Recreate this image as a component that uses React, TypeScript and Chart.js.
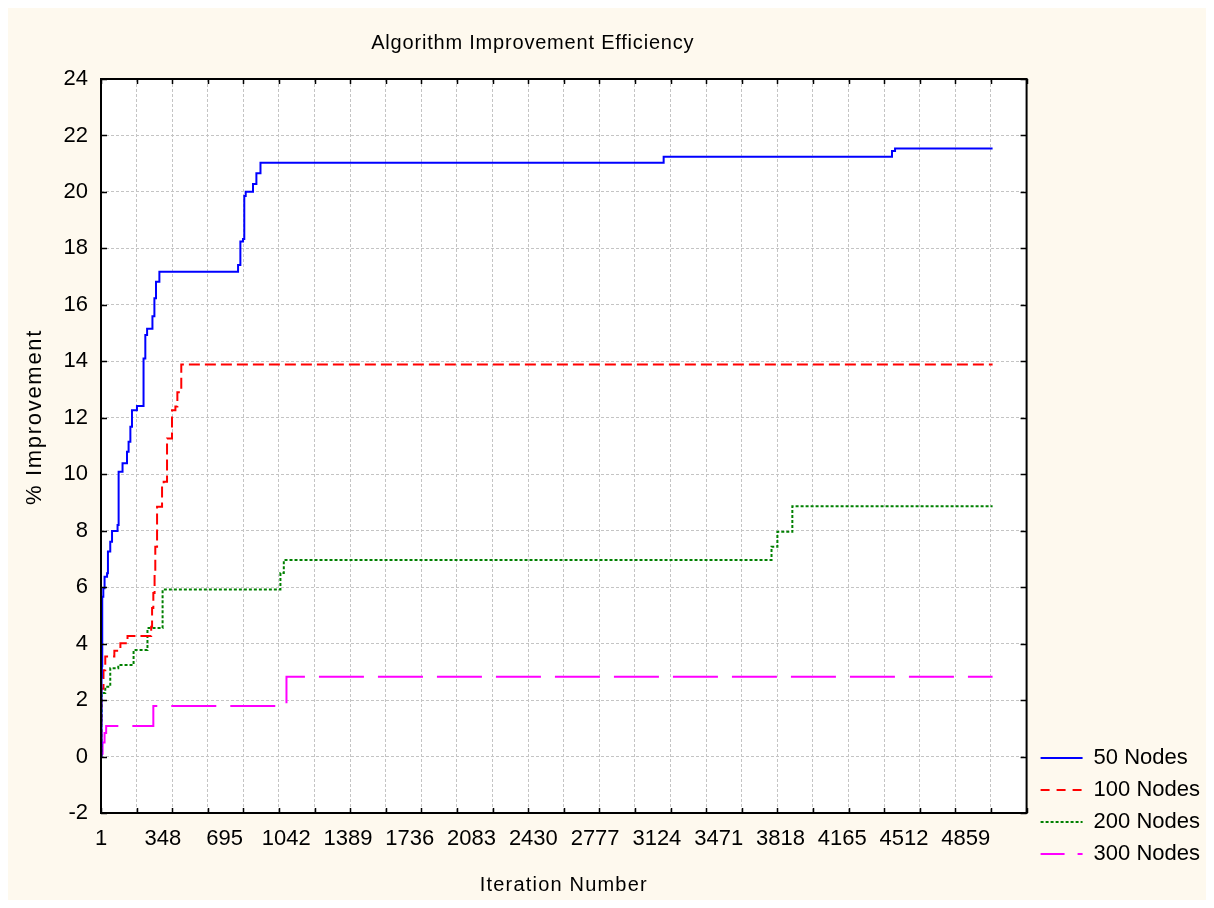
import React, { useEffect, useRef } from "react";
import { Chart, registerables } from "chart.js";

Chart.register(...registerables);

// ---------- data ----------
const TITLE = "Algorithm Improvement Efficiency";
const X_TITLE = "Iteration Number";
const Y_TITLE = "% Improvement";

const SERIES_NAMES = ["50 Nodes", "100 Nodes", "200 Nodes", "300 Nodes"];

const nodes50Iter = [1, 4, 6, 8, 14, 21, 35, 40, 53, 63, 94, 100, 122, 147, 156, 166, 175, 203, 240, 250, 260, 290, 301, 310, 329, 771, 784, 799, 806, 814, 855, 874, 897, 3162, 4445, 4462, 5010];
const nodes50Val = [0, 2.8, 3.2, 5.66, 5.96, 6.37, 6.49, 7.26, 7.61, 7.99, 8.2, 10.09, 10.39, 10.8, 11.15, 11.68, 12.27, 12.42, 14.1, 14.93, 15.15, 15.6, 16.23, 16.82, 17.17, 17.41, 18.24, 18.33, 19.86, 20.01, 20.28, 20.66, 21.03, 21.25, 21.45, 21.54, 21.54];

const nodes100Iter = [1, 3, 15, 25, 76, 110, 150, 283, 288, 295, 302, 306, 316, 344, 353, 372, 400, 419, 430, 452, 5010];
const nodes100Val = [0, 2.4, 3.06, 3.54, 3.75, 4.01, 4.27, 4.6, 5.26, 5.79, 6.5, 7.43, 8.85, 9.68, 9.73, 11.27, 12.27, 12.4, 12.9, 13.89, 13.89];

const nodes200Iter = [1, 3, 5, 25, 53, 98, 184, 262, 347, 1009, 1028, 3768, 3801, 3885, 5010];
const nodes200Val = [0, 1.3, 2.25, 2.47, 3.13, 3.24, 3.77, 4.55, 5.92, 6.5, 6.96, 7.43, 7.96, 8.87, 8.87];

const nodes300Iter = [1, 10, 21, 30, 295, 1043, 5010];
const nodes300Val = [0.1, 0.5, 0.83, 1.08, 1.79, 2.83, 2.83];

const X_LABEL_TICKS = [1, 348, 695, 1042, 1389, 1736, 2083, 2430, 2777, 3124, 3471, 3818, 4165, 4512, 4859];
const X_GRID_TICKS = [1, 201, 401, 601, 801, 1001, 1201, 1401, 1601, 1801, 2001, 2201, 2401, 2601, 2801, 3001, 3201, 3401, 3601, 3801, 4001, 4201, 4401, 4601, 4801, 5001, 5201];
const X_MIN = 1;
const X_MAX = 5201;
const Y_MIN = -2;
const Y_MAX = 24;
const Y_STEP = 2;

// ---------- styles ----------
const COLORS = ["#0000ff", "#ff0000", "#008000", "#ff00ff"];
const DASHES = [[], [11, 5], [3, 2], [45, 14]];
const LEGEND_DASHES = [[], [9, 7], [3, 2], [24, 13, 5, 0]];
const CREAM = "#fef9ee";
const FONT = "'Liberation Sans', Arial, sans-serif";
const GRID_COLOR = "#c4c4c4";

const toPoints = (xs: number[], ys: number[]) => xs.map((x, i) => ({ x, y: ys[i] }));

const decorPlugin = {
  id: "decor",
  afterLayout(chart: any) {
    const lg = chart.legend;
    if (lg) {
      lg.left += 4;
      lg.right += 4;
    }
  },
  beforeDraw(chart: any) {
    const { ctx, chartArea: a, width, height } = chart;
    ctx.save();
    ctx.fillStyle = CREAM;
    ctx.fillRect(0, 0, width, height);
    ctx.fillStyle = "#ffffff";
    ctx.fillRect(a.left, a.top, a.right - a.left, a.bottom - a.top);
    ctx.restore();
  },
  afterDatasetsDraw(chart: any) {
    const { ctx, chartArea: a, scales } = chart;
    ctx.save();
    ctx.strokeStyle = "#000";
    ctx.lineWidth = 2;
    ctx.setLineDash([]);
    ctx.strokeRect(a.left, a.top, a.right - a.left, a.bottom - a.top);
    ctx.lineWidth = 1.5;
    ctx.beginPath();
    X_GRID_TICKS.forEach((v) => {
      const px = Math.round(scales.x.getPixelForValue(v)) + 0.5;
      ctx.moveTo(px, a.top);
      ctx.lineTo(px, a.top + 5);
      ctx.moveTo(px, a.bottom);
      ctx.lineTo(px, a.bottom - 5);
    });
    for (let v = Y_MIN; v <= Y_MAX; v += Y_STEP) {
      const py = Math.round(scales.y.getPixelForValue(v)) + 0.5;
      ctx.moveTo(a.left, py);
      ctx.lineTo(a.left + 6, py);
      ctx.moveTo(a.right, py);
      ctx.lineTo(a.right - 6, py);
    }
    ctx.stroke();
    ctx.restore();
  },
  afterDraw(chart: any) {
    const { ctx, chartArea: a } = chart;
    ctx.save();
    ctx.fillStyle = "#000";
    ctx.textAlign = "center";
    ctx.textBaseline = "middle";
    // main title
    ctx.font = `20px ${FONT}`;
    (ctx as any).letterSpacing = "0.8px";
    ctx.fillText(TITLE, (a.left + a.right) / 2 - 31, a.top - 36);
    // x title
    (ctx as any).letterSpacing = "1.2px";
    ctx.fillText(X_TITLE, (a.left + a.right) / 2, a.bottom + 72);
    // y title
    ctx.font = `22px ${FONT}`;
    (ctx as any).letterSpacing = "1.7px";
    ctx.translate(27, (a.top + a.bottom) / 2 - 29);
    ctx.rotate(-Math.PI / 2);
    ctx.fillText(Y_TITLE, 0, 0);
    ctx.restore();
  },
};

export default function App() {
  const ref = useRef<HTMLCanvasElement | null>(null);

  useEffect(() => {
    if (!ref.current) return;
    const seriesPts = [
      toPoints(nodes50Iter, nodes50Val),
      toPoints(nodes100Iter, nodes100Val),
      toPoints(nodes200Iter, nodes200Val),
      toPoints(nodes300Iter, nodes300Val),
    ];
    const chart = new Chart(ref.current, {
      type: "line",
      data: {
        datasets: seriesPts.map((pts, i) => ({
          label: SERIES_NAMES[i],
          data: pts,
          borderColor: COLORS[i],
          backgroundColor: COLORS[i],
          borderWidth: 2,
          borderDash: DASHES[i],
          pointRadius: 0,
          stepped: "before" as const,
          fill: false,
        })),
      },
      options: {
        animation: false,
        responsive: false,
        parsing: false as any,
        layout: { padding: { top: 71, left: 0, right: 0, bottom: 25 } },
        plugins: {
          title: { display: false },
          tooltip: { enabled: false },
          legend: {
            position: "right",
            align: "end",
            labels: {
              usePointStyle: true,
              pointStyle: "line",
              pointStyleWidth: 42,
              padding: 10,
              color: "#000",
              font: { size: 22, family: FONT },
              generateLabels: (chart: any) => {
                const items = Chart.defaults.plugins.legend.labels.generateLabels(chart);
                return items.map((it: any, i: number) => ({ ...it, lineDash: LEGEND_DASHES[i], pointStyle: "line" }));
              },
            },
          },
        },
        scales: {
          x: {
            type: "linear",
            min: X_MIN,
            max: X_MAX,
            afterBuildTicks: (scale: any) => {
              const vals = Array.from(new Set([...X_GRID_TICKS, ...X_LABEL_TICKS])).sort((p, q) => p - q);
              scale.ticks = vals.map((v) => ({ value: v }));
            },
            afterFit: (scale: any) => {
              scale.height = 62;
            },
            ticks: {
              autoSkip: false,
              maxRotation: 0,
              minRotation: 0,
              padding: 13,
              color: "#000",
              font: { size: 22, family: FONT },
              callback: (value: any) => (X_LABEL_TICKS.includes(Number(value)) ? String(value) : ""),
            },
            grid: {
              drawTicks: false,
              lineWidth: 1,
              color: (ctx: any) => (ctx.tick && X_GRID_TICKS.includes(ctx.tick.value) ? GRID_COLOR : "rgba(0,0,0,0)"),
            },
            border: { display: false, dash: [3, 2] },
          },
          y: {
            type: "linear",
            min: Y_MIN,
            max: Y_MAX,
            afterFit: (scale: any) => {
              scale.width = 93;
            },
            ticks: {
              stepSize: Y_STEP,
              padding: 13,
              color: "#000",
              font: { size: 22, family: FONT },
            },
            grid: { drawTicks: false, lineWidth: 1, color: GRID_COLOR },
            border: { display: false, dash: [3, 2] },
          },
        },
      },
      plugins: [decorPlugin],
    });
    return () => chart.destroy();
  }, []);

  return (
    <div style={{ width: 1198, height: 892 }}>
      <canvas ref={ref} width={1198} height={892} style={{ display: "block" }} />
    </div>
  );
}
